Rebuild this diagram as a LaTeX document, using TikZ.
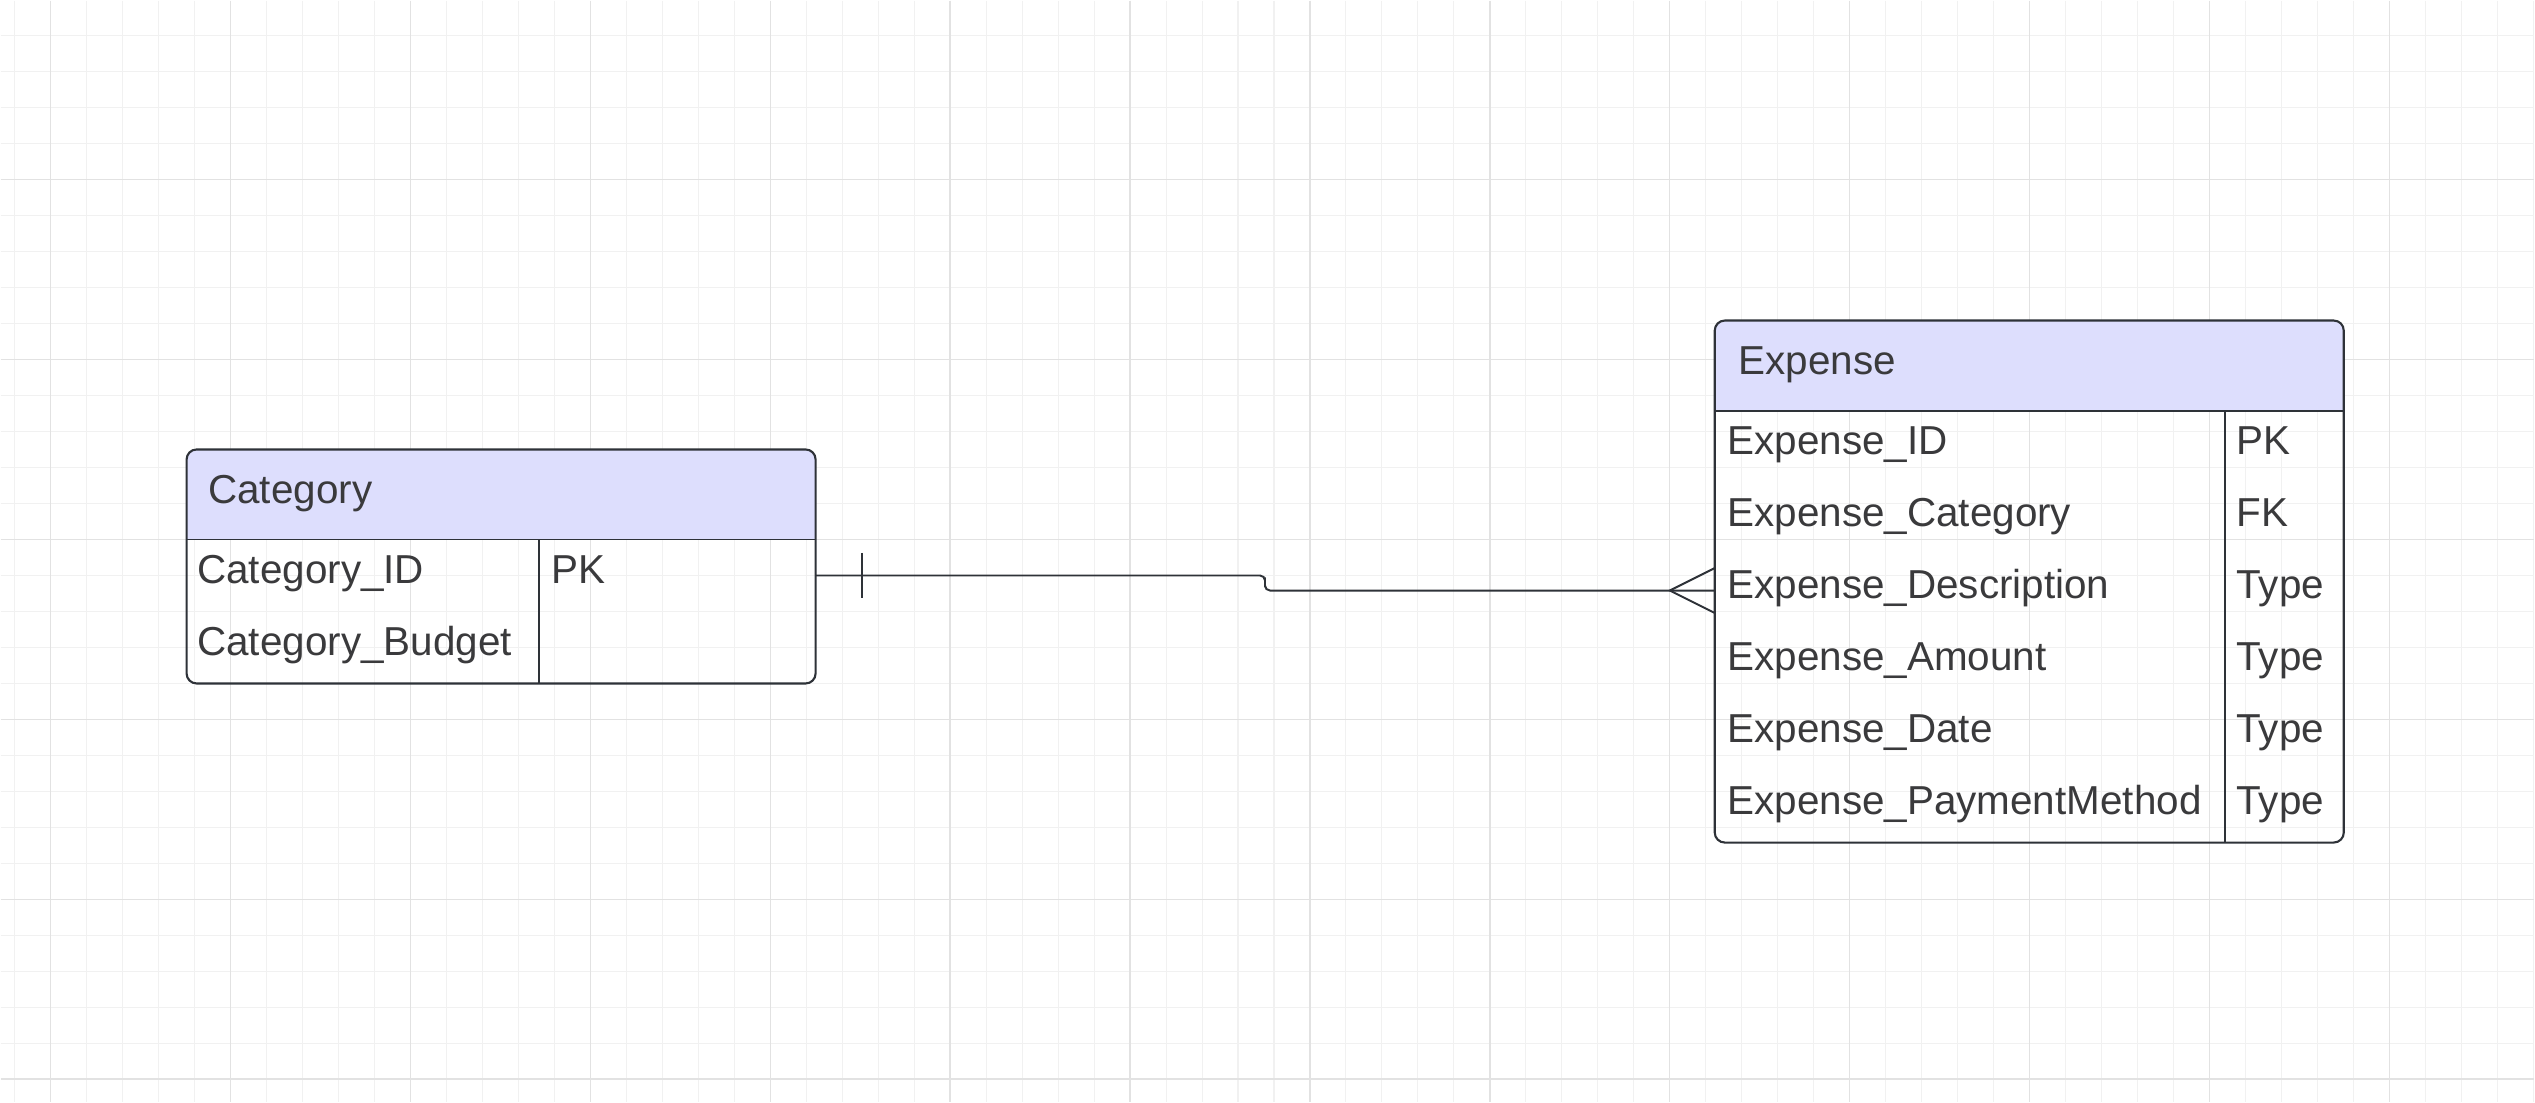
\documentclass[tikz,border=0pt]{standalone}
\usepackage{fontspec}
\setmainfont{Liberation Sans}
\usepackage{xcolor}
\usepackage{tikz}
\usetikzlibrary{positioning}

\definecolor{erhead}{RGB}{221,222,253}
\definecolor{erink}{RGB}{46,50,56}
\definecolor{ertext}{RGB}{58,58,60}
\definecolor{gridmajor}{RGB}{226,226,226}
\definecolor{gridminor}{RGB}{241,241,241}

\tikzset{er-line/.style={line width=0.55pt, draw=erink}}
\tikzset{er-box/.style={line width=0.6pt, draw=erink, rounded corners=0.1cm}}
\tikzset{er-head/.style={inner sep=0, outer sep=0, minimum width=6.29cm, minimum height=0.9cm, fill=erhead, rounded corners=0.1cm}}
\tikzset{er-row/.style={inner sep=0, outer sep=0, minimum width=6.29cm, minimum height=0.72cm}}
\tikzset{er-text/.style={inner sep=0, anchor=base west, text=ertext, font=\fontsize{11.5}{14}\selectfont}}
\tikzset{grid-major/.style={draw=gridmajor, line width=0.4pt}}
\tikzset{grid-minor/.style={draw=gridminor, line width=0.3pt}}

\begin{document}
\begin{tikzpicture}[x=0.01cm, y=-0.01cm]
    \fill[white] (0,0) rectangle (2535,1102);
    \foreach \gx in {14,50,...,2535} \draw[grid-minor] (\gx,0) -- (\gx,1102);
    \foreach \gy in {35,71,...,1102} \draw[grid-minor] (0,\gy) -- (2535,\gy);
    \foreach \gx in {50,230,...,2535} \draw[grid-major] (\gx,0) -- (\gx,1102);
    \foreach \gy in {179,359,...,1102} \draw[grid-major] (0,\gy) -- (2535,\gy);

    % Category table
    \node[er-head, anchor=north west, alias=cat-r0] (cat-head) at (186,449) {};
    \fill[erhead] ([yshift=0.15cm]cat-head.south west) rectangle (cat-head.south east);
    \foreach \fname/\fkey [count=\i, remember=\i as \j (initially 0)] in {Category\_ID/PK, Category\_Budget/{}} {
        \node[er-row, below=0cm of cat-r\j] (cat-r\i) {};
        \node[er-text] at ([xshift=0.1cm, yshift=-0.08cm]cat-r\i.west) {\fname};
        \node[er-text] at ([xshift=3.64cm, yshift=-0.08cm]cat-r\i.west) {\fkey};
    }
    \draw[er-box] (cat-head.north west) rectangle (cat-r2.south east);
    \draw[er-line] (cat-head.south west) -- (cat-head.south east);
    \draw[er-line] ([xshift=3.52cm]cat-head.south west) -- ([xshift=3.52cm]cat-r2.south west);
    \node[er-text] at ([xshift=0.21cm, yshift=-0.09cm]cat-head.west) {Category};

    % Expense table
    \node[er-head, anchor=north west, alias=exp-r0] (exp-head) at (1715,320) {};
    \fill[erhead] ([yshift=0.15cm]exp-head.south west) rectangle (exp-head.south east);
    \foreach \fname/\fkey [count=\i, remember=\i as \j (initially 0)] in {Expense\_ID/PK, Expense\_Category/FK, Expense\_Description/Type, Expense\_Amount/Type, Expense\_Date/Type, Expense\_PaymentMethod/Type} {
        \node[er-row, below=0cm of exp-r\j] (exp-r\i) {};
        \node[er-text] at ([xshift=0.12cm, yshift=-0.08cm]exp-r\i.west) {\fname};
        \node[er-text] at ([xshift=5.21cm, yshift=-0.08cm]exp-r\i.west) {\fkey};
    }
    \draw[er-box] (exp-head.north west) rectangle (exp-r6.south east);
    \draw[er-line] (exp-head.south west) -- (exp-head.south east);
    \draw[er-line] ([xshift=5.10cm]exp-head.south west) -- ([xshift=5.10cm]exp-r6.south west);
    \node[er-text] at ([xshift=0.23cm, yshift=-0.09cm]exp-head.west) {Expense};

    % relation: one category -- many expenses
    \coordinate (jog) at (1265,582);
    \draw[er-line, rounded corners=0.05cm] (cat-r1.east) -| (jog) |- (exp-r3.west);
    \draw[er-line] ([xshift=0.46cm, yshift=0.225cm]cat-r1.east) -- ([xshift=0.46cm, yshift=-0.225cm]cat-r1.east);
    \draw[er-line] ([yshift=0.225cm]exp-r3.west) -- ([xshift=-0.45cm]exp-r3.west) -- ([yshift=-0.225cm]exp-r3.west);
\end{tikzpicture}
\end{document}
